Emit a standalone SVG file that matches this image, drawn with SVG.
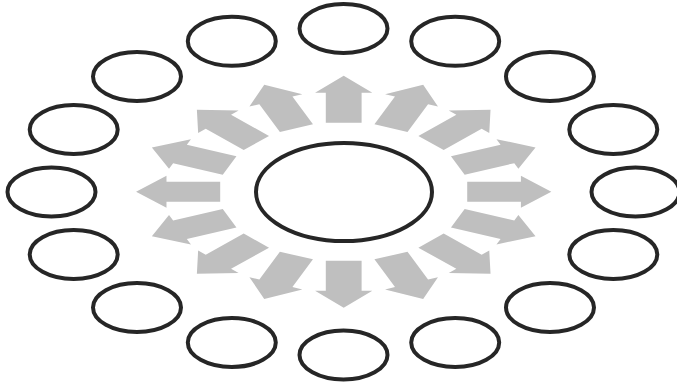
<svg xmlns="http://www.w3.org/2000/svg" xmlns:xlink="http://www.w3.org/1999/xlink" width="677" height="386" viewBox="0 0 677 386">
<style>
.node{fill:#ffffff;stroke:#262626;stroke-width:4}
.arr{fill:#bfbfbf;stroke:none}
</style>
<defs>
<polygon id="arrow" class="arr" points="69,-10 99,-10 99,-16 116,0 99,16 99,10 69,10"/>
</defs>
<rect width="677" height="386" fill="#ffffff"/>
<g id="connectors" transform="translate(343.7,191.8) scale(1.79,1)">
<use xlink:href="#arrow" href="#arrow" transform="rotate(0)"/>
<use xlink:href="#arrow" href="#arrow" transform="rotate(22.5)"/>
<use xlink:href="#arrow" href="#arrow" transform="rotate(45)"/>
<use xlink:href="#arrow" href="#arrow" transform="rotate(67.5)"/>
<use xlink:href="#arrow" href="#arrow" transform="rotate(90)"/>
<use xlink:href="#arrow" href="#arrow" transform="rotate(112.5)"/>
<use xlink:href="#arrow" href="#arrow" transform="rotate(135)"/>
<use xlink:href="#arrow" href="#arrow" transform="rotate(157.5)"/>
<use xlink:href="#arrow" href="#arrow" transform="rotate(180)"/>
<use xlink:href="#arrow" href="#arrow" transform="rotate(202.5)"/>
<use xlink:href="#arrow" href="#arrow" transform="rotate(225)"/>
<use xlink:href="#arrow" href="#arrow" transform="rotate(247.5)"/>
<use xlink:href="#arrow" href="#arrow" transform="rotate(270)"/>
<use xlink:href="#arrow" href="#arrow" transform="rotate(292.5)"/>
<use xlink:href="#arrow" href="#arrow" transform="rotate(315)"/>
<use xlink:href="#arrow" href="#arrow" transform="rotate(337.5)"/>
</g>
<g id="center"><ellipse class="node" cx="344" cy="192" rx="88" ry="49"/></g>
<g id="n1"><ellipse class="node" cx="343.5" cy="28.5" rx="44" ry="24.5"/></g>
<g id="n2"><ellipse class="node" cx="455.2" cy="41.3" rx="44" ry="24.5"/></g>
<g id="n3"><ellipse class="node" cx="550" cy="76.5" rx="44" ry="24.5"/></g>
<g id="n4"><ellipse class="node" cx="613.3" cy="129.5" rx="44" ry="24.5"/></g>
<g id="n5"><ellipse class="node" cx="635.5" cy="192" rx="44" ry="24.5"/></g>
<g id="n6"><ellipse class="node" cx="613.3" cy="254.5" rx="44" ry="24.5"/></g>
<g id="n7"><ellipse class="node" cx="550" cy="307.5" rx="44" ry="24.5"/></g>
<g id="n8"><ellipse class="node" cx="455.2" cy="342.5" rx="44" ry="24.5"/></g>
<g id="n9"><ellipse class="node" cx="343.5" cy="355" rx="44" ry="24.5"/></g>
<g id="n10"><ellipse class="node" cx="231.8" cy="342.5" rx="44" ry="24.5"/></g>
<g id="n11"><ellipse class="node" cx="137" cy="307.5" rx="44" ry="24.5"/></g>
<g id="n12"><ellipse class="node" cx="73.7" cy="254.5" rx="44" ry="24.5"/></g>
<g id="n13"><ellipse class="node" cx="51.5" cy="192" rx="44" ry="24.5"/></g>
<g id="n14"><ellipse class="node" cx="73.7" cy="129.5" rx="44" ry="24.5"/></g>
<g id="n15"><ellipse class="node" cx="137" cy="76.5" rx="44" ry="24.5"/></g>
<g id="n16"><ellipse class="node" cx="231.8" cy="41.3" rx="44" ry="24.5"/></g>
</svg>
